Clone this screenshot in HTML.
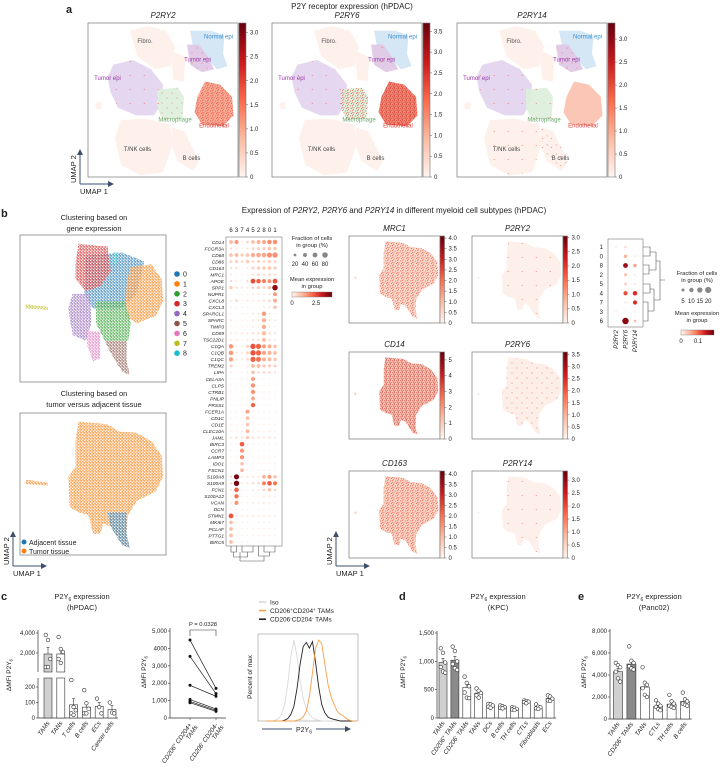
<!DOCTYPE html>
<html><head><meta charset="utf-8">
<style>
html,body{margin:0;padding:0;background:#fff;}
svg{display:block;font-family:"Liberation Sans",sans-serif;}
text{fill:#222;}
</style></head>
<body>
<svg id="fig" width="722" height="775" viewBox="0 0 722 775" xmlns="http://www.w3.org/2000/svg">
<defs>
 <linearGradient id="reds-v" x1="0" y1="1" x2="0" y2="0">
  <stop offset="0" stop-color="#fff5f0"/><stop offset="0.25" stop-color="#fcbba1"/><stop offset="0.5" stop-color="#fb6a4a"/><stop offset="0.75" stop-color="#cb181d"/><stop offset="1" stop-color="#67000d"/>
 </linearGradient>
 <linearGradient id="reds-h" x1="0" y1="0" x2="1" y2="0">
  <stop offset="0" stop-color="#fff5f0"/><stop offset="0.25" stop-color="#fcbba1"/><stop offset="0.5" stop-color="#fb6a4a"/><stop offset="0.75" stop-color="#cb181d"/><stop offset="1" stop-color="#67000d"/>
 </linearGradient>
 <marker id="arr" markerWidth="6" markerHeight="6" refX="5" refY="3" orient="auto"><path d="M0,0 L6,3 L0,6 z" fill="#3d4f6b"/></marker>
</defs>

<text x="66" y="13" font-size="11" font-weight="bold">a</text>
<text x="352" y="9" font-size="8" text-anchor="middle">P2Y receptor expression (hPDAC)</text>

<text x="1" y="217" font-size="11" font-weight="bold">b</text>
<text x="94" y="220" font-size="7.5" text-anchor="middle">Clustering based on</text>
<text x="94" y="231" font-size="7.5" text-anchor="middle">gene expression</text>
<text x="94" y="396" font-size="7.5" text-anchor="middle">Clustering based on</text>
<text x="94" y="407" font-size="7.5" text-anchor="middle">tumor versus adjacent tissue</text>
<text x="394" y="213" font-size="8" text-anchor="middle">Expression of <tspan font-style="italic">P2RY2</tspan>, <tspan font-style="italic">P2RY6</tspan> and <tspan font-style="italic">P2RY14</tspan> in different myeloid cell subtypes (hPDAC)</text>

<text x="1" y="600" font-size="11" font-weight="bold">c</text>
<text x="82" y="599" font-size="7.5" text-anchor="middle">P2Y<tspan font-size="5" dy="2">6</tspan><tspan dy="-2"> expression</tspan></text>
<text x="82" y="610" font-size="7.5" text-anchor="middle">(hPDAC)</text>
<text x="399" y="600" font-size="11" font-weight="bold">d</text>
<text x="498" y="599" font-size="7.5" text-anchor="middle">P2Y<tspan font-size="5" dy="2">6</tspan><tspan dy="-2"> expression</tspan></text>
<text x="498" y="610" font-size="7.5" text-anchor="middle">(KPC)</text>
<text x="578" y="600" font-size="11" font-weight="bold">e</text>
<text x="654" y="599" font-size="7.5" text-anchor="middle">P2Y<tspan font-size="5" dy="2">6</tspan><tspan dy="-2"> expression</tspan></text>
<text x="654" y="610" font-size="7.5" text-anchor="middle">(Panc02)</text>
</svg>

<script>
// ---------------- DATA ----------------
const dpClusters = ["6","3","7","4","5","2","8","0","1"];
const dpGenes = ["CD14","FCGR3A","CD68","CD86","CD163","MRC1","APOE","SPP1","NUPR1","CXCL8","CXCL3","SPARCL1","SPARC","TIMP3","CD59","TSC22D1","C1QA","C1QB","C1QC","TREM2","LIPA","CELA3A","CLPS","CTRB1","PNLIP","PRSS1","FCER1A","CD1C","CD1E","CLEC10A","JAML","BIRC3","CCR7","LAMP3","IDO1","FSCN1","S100A8","S100A9","FCN1","S100A12","VCAN","DCN","STMN1","MKI67","PCLAF","PTTG1","BIRC5"];
const dpFrac = [
[40,45,10,20,35,40,45,55,55],[15,10,5,10,20,25,25,30,30],[40,40,30,40,50,55,60,70,75],[25,30,20,35,20,25,20,30,25],
[15,15,5,10,25,30,30,35,30],[10,5,5,5,15,20,15,20,15],[15,10,5,15,60,55,45,40,60],[30,15,10,10,20,25,20,30,80],
[5,5,5,5,10,10,10,15,40],[10,20,5,10,10,10,15,20,40],[5,5,5,5,5,5,10,10,30],[5,5,5,5,10,10,50,10,5],
[10,5,5,5,10,10,50,10,10],[5,5,5,5,10,5,50,10,5],[10,10,10,10,15,15,50,15,10],[10,10,5,10,15,15,45,15,10],
[55,10,10,25,75,70,45,40,30],[55,10,10,25,75,70,45,40,35],[50,10,10,20,70,65,40,35,30],[25,5,5,10,40,40,30,25,25],
[10,5,5,10,35,20,20,20,15],[5,5,5,5,45,5,5,5,5],[5,5,5,5,50,5,5,5,5],[5,5,5,5,50,5,5,5,5],
[5,5,5,5,40,5,5,5,5],[5,5,5,5,50,5,5,5,5],[5,5,5,40,5,5,5,5,5],[5,5,5,35,5,5,5,5,5],
[5,5,5,30,5,5,5,5,5],[5,5,8,35,8,8,5,8,5],[10,15,15,30,15,15,10,15,10],[5,5,55,8,5,5,5,5,5],
[5,5,45,5,5,5,5,5,5],[5,5,45,5,5,5,5,5,5],[5,5,30,5,5,5,5,5,5],[5,5,35,5,5,5,5,5,5],
[15,70,10,10,10,10,35,40,30],[15,75,10,10,15,15,45,55,45],[10,55,5,5,10,10,20,30,20],[5,50,5,5,5,5,10,10,8],
[8,45,5,5,8,8,10,10,8],[5,5,5,5,5,5,5,5,5],[60,10,10,10,10,10,8,10,8],[35,5,5,5,5,5,5,5,5],
[35,5,5,5,5,5,5,5,5],[35,5,5,5,5,5,5,5,5],[35,5,5,5,5,5,5,5,5]];
const dpExpr = [
[1,1.5,.3,.6,1,1.2,1.3,1.6,1.6],[.5,.4,.2,.4,.6,.7,.8,.9,.9],[.8,1,.7,.8,1.2,1.3,1.3,1.6,1.6],[.5,.6,.4,.7,.5,.6,.5,.6,.5],
[.4,.4,.2,.3,.6,.7,.8,.8,.7],[.3,.2,.2,.2,.4,.5,.4,.5,.4],[.5,.3,.2,.5,2.5,2.2,1.8,1.6,2.4],[.8,.4,.3,.3,.6,.7,.6,.9,3.8],
[.2,.2,.2,.2,.3,.3,.3,.4,1.5],[.3,.5,.2,.3,.3,.3,.4,.5,1.2],[.2,.2,.2,.2,.2,.2,.3,.3,1],[.2,.2,.2,.2,.3,.3,1.5,.3,.2],
[.3,.2,.2,.2,.3,.3,1.2,.3,.3],[.2,.2,.2,.2,.3,.2,1.2,.3,.2],[.3,.3,.3,.3,.4,.4,1,.4,.3],[.3,.3,.2,.3,.4,.4,1,.4,.3],
[1.5,.3,.3,.6,2.4,2.2,1.4,1.2,1],[1.5,.3,.3,.6,2.4,2.2,1.4,1.2,1],[1.4,.3,.3,.5,2.2,2,1.2,1.1,.9],[.6,.2,.2,.3,1,1,.8,.7,.7],
[.3,.2,.2,.3,.9,.5,.5,.5,.4],[.2,.2,.2,.2,1.4,.2,.2,.2,.2],[.2,.2,.2,.2,1.6,.2,.2,.2,.2],[.2,.2,.2,.2,1.6,.2,.2,.2,.2],
[.2,.2,.2,.2,1.3,.2,.2,.2,.2],[.2,.2,.2,.2,2.2,.2,.2,.2,.2],[.2,.2,.2,1.4,.2,.2,.2,.2,.2],[.2,.2,.2,1,.2,.2,.2,.2,.2],
[.2,.2,.2,.9,.2,.2,.2,.2,.2],[.2,.2,.3,1.1,.3,.3,.2,.3,.2],[.3,.4,.4,.8,.4,.4,.3,.4,.3],[.2,.2,2.3,.3,.2,.2,.2,.2,.2],
[.2,.2,1.6,.2,.2,.2,.2,.2,.2],[.2,.2,1.6,.2,.2,.2,.2,.2,.2],[.2,.2,1,.2,.2,.2,.2,.2,.2],[.2,.2,1.1,.2,.2,.2,.2,.2,.2],
[.5,4,.3,.3,.3,.3,1.2,1.5,1],[.5,4,.3,.3,.5,.5,1.8,2.3,2],[.3,2.2,.2,.2,.3,.3,.6,.9,.6],[.2,2,.2,.2,.2,.2,.3,.3,.3],
[.3,1.6,.2,.2,.3,.3,.3,.3,.3],[.2,.2,.2,.2,.2,.2,.2,.2,.2],[2.4,.3,.3,.3,.3,.3,.3,.3,.3],[1,.2,.2,.2,.2,.2,.2,.2,.2],
[1,.2,.2,.2,.2,.2,.2,.2,.2],[1,.2,.2,.2,.2,.2,.2,.2,.2],[1,.2,.2,.2,.2,.2,.2,.2,.2]];

const pRows = ["1","0","8","2","5","4","7","3","6"];
const pGenes = ["P2RY2","P2RY6","P2RY14"];
const pFrac = [[2,3,1],[1,6,2],[1,12,6],[1,5,2],[1,4,2],[1,9,11],[1,2,9],[2,1,1],[1,22,4]];
const pExpr = [[.01,.03,0],[0,.06,.02],[0,.19,.07],[0,.05,.01],[0,.04,.02],[0,.13,.15],[0,.02,.15],[.01,.01,.01],[0,.2,.05]];

const cCats = ["TAMs","TANs","T cells","B cells","ECs","Cancer cells"];
const cMeans = [1900,1900,85,70,75,55];
const cErr = [650,500,40,30,25,25];
const cPoints = [[3800,3300,1400,600,600],[3600,2400,2100,1400,1000],[245,70,50,30,20],[180,95,60,30,30],[125,70,30],[100,35,30]];
const cUpperTicks = [2000,4000];
const cLowerTicks = [0,100,200];

const pairLeft = [4480,3540,1880,1060,950,880];
const pairRight = [1700,1400,1250,520,450,380];
const pairTicks = [0,1000,2000,3000,4000,5000];
const pairTickLabels = ["0","1,000","2,000","3,000","4000","5,000"];

const histIso = [0,0,0,1,3,8,20,45,80,100,80,50,28,15,8,4,2,1,0,0,0,0,0,0,0,0,0,0,0,0];
const histNeg = [0,0,0,0,0,0,1,3,8,18,40,70,92,97,90,98,72,42,20,10,5,3,2,1,0,0,0,0,0,0];
const histPos = [0,0,0,0,0,0,0,0,0,0,1,2,5,12,30,60,90,100,95,70,45,30,20,12,8,6,3,1,0,0];

const dCats = ["TAMs","CD206+ TAMs","CD206- TAMs","TANs","DCs","B cells","TH cells","CTLs","Fibroblasts","ECs"];
const dMeans = [980,1020,540,440,220,200,165,290,190,345];
const dPoints = [[1230,1150,980,900,820,800],[1260,1180,1000,950,880,850],[730,620,560,450,360,350],[520,480,440,400,360],[250,240,220,200,180],[220,210,190,180,170],[190,180,160,150,140],[310,300,290,280,260],[240,200,190,170,160],[400,380,340,310,300]];
const dTicks = [0,500,1000,1500];
const dTickLabels = ["0","500","1,000","1,500"];

const eCats = ["TAMs","CD206+ TAMs","TANs","CTLs","TH cells","B cells"];
const eMeans = [4300,5000,2900,1150,1350,1600];
const ePoints = [[5100,4900,4700,4300,3700,3400],[6600,5300,5100,4800,4600,4500],[4700,3300,3100,2800,2200,2000],[1700,1400,1200,1100,900,800],[2200,1600,1400,1200,1100,1000],[2400,1800,1600,1400,1300,1200]];
const eTicks = [0,2000,4000,6000,8000];
const eTickLabels = ["0","2,000","4,000","6,000","8,000"];

// ---------------- HELPERS ----------------
const NS="http://www.w3.org/2000/svg";
const svg=document.getElementById('fig');
const defs=svg.querySelector('defs');
function el(tag,a,p){const e=document.createElementNS(NS,tag);for(const k in a)e.setAttribute(k,a[k]);(p||svg).appendChild(e);return e;}
function tx(x,y,s,size,p,extra){const t=el('text',Object.assign({x:x,y:y,'font-size':size},extra||{}),p);t.textContent=s;return t;}
const stops=[[255,245,240],[252,187,161],[251,106,74],[203,24,29],[103,0,13]];
function reds(t){t=Math.max(0,Math.min(1,t));const f=t*4,i=Math.min(3,Math.floor(f)),r=f-i;const a=stops[i],b=stops[i+1];
 return 'rgb('+a.map((v,k)=>Math.round(v+(b[k]-v)*r)).join(',')+')';}
function poly(pts,x0,y0,w,h){return pts.map((p,i)=>(i?'L':'M')+(x0+p[0]*w).toFixed(1)+','+(y0+p[1]*h).toFixed(1)).join(' ')+'Z';}
function pattern(id,color,tile,pts){const p=el('pattern',{id:id,width:tile,height:tile,patternUnits:'userSpaceOnUse'},defs);
 pts.forEach(q=>el('circle',{cx:q[0]*tile,cy:q[1]*tile,r:q[2]||0.45,fill:color},p));}
const spk=[[.1,.2],[.55,.1],[.8,.55],[.3,.7],[.65,.85],[.45,.45]];
pattern('spk-red','#e8412c',5,spk);
pattern('spk-dark','#c81d1d',4,spk);
pattern('spk-light','#ee5a40',10,[[.2,.3],[.7,.8]]);
pattern('spk-sparse','#e55a45',14,[[.3,.4]]);
pattern('spk-vsparse','#e55a45',9,[[.3,.4],[.8,.1]]);
const clusterColors=['#1f77b4','#ff7f0e','#2ca02c','#d62728','#9467bd','#8c564b','#e377c2','#bcbd22','#17becf'];
clusterColors.forEach((c,i)=>pattern('cl'+i,c,3,[[.2,.3,.7],[.7,.75,.7],[.75,.2,.5]]));

function colorbar(x,y,w,h,max,ticks,labels,p){
 const g=el('g',{},p);
 
 
 el('rect',{x:x,y:y,width:w,height:h,fill:'url(#reds-v)',stroke:'#777','stroke-width':0.6},g);
 ticks.forEach((t,i)=>{const yy=y+h-t/max*h;el('line',{x1:x+w,x2:x+w+2,y1:yy,y2:yy,stroke:'#555','stroke-width':0.5},g);
  tx(x+w+4,yy+2,labels[i],6,g);});
}
function umapArrows(x,y,p){
 const g=el('g',{},p);
 
 
 el('line',{x1:x,y1:y,x2:x,y2:y-34,stroke:'#3d4f6b','stroke-width':1,'marker-end':'url(#arr)'},g);
 el('line',{x1:x,y1:y,x2:x+33,y2:y,stroke:'#3d4f6b','stroke-width':1,'marker-end':'url(#arr)'},g);
 tx(x,y+10,'UMAP 1',7.5,g);
 tx(x-4,y-1,'UMAP 2',7.5,g,{transform:'rotate(-90 '+(x-4)+' '+(y-1)+')'});
}

// ---------------- PANEL A ----------------
const blobs={
 bigTumor:[[.17,.27],[.30,.24],[.42,.30],[.50,.40],[.49,.52],[.44,.60],[.32,.60],[.20,.55],[.15,.45],[.13,.35]],
 fibro:[[.28,.05],[.40,.02],[.52,.05],[.58,.15],[.55,.28],[.45,.30],[.33,.22]],
 fibro2:[[.55,.18],[.65,.22],[.64,.38],[.57,.37]],
 normal:[[.68,.05],[.82,.05],[.91,.08],[.90,.20],[.93,.28],[.86,.30],[.78,.22],[.70,.15]],
 smallTumor:[[.66,.14],[.74,.14],[.80,.22],[.84,.30],[.76,.32],[.68,.27]],
 macro:[[.46,.43],[.60,.42],[.64,.48],[.63,.62],[.50,.63],[.46,.55]],
 endo:[[.78,.38],[.88,.40],[.96,.48],[.97,.60],[.90,.67],[.76,.66],[.71,.58],[.73,.48]],
 tnk:[[.22,.63],[.38,.62],[.55,.66],[.56,.80],[.50,.97],[.35,.99],[.22,.92],[.18,.75]],
 bcell:[[.56,.68],[.64,.70],[.74,.90],[.70,.96],[.60,.90],[.55,.78]],
 bit:[[.05,.52],[.09,.51],[.09,.56],[.05,.56]]
};
const aPanels=[
 {gene:'P2RY2',x:88,max:3.2,ticks:[0,.5,1,1.5,2,2.5,3],endo:'#f7a58f',endoS:'url(#spk-red)',macS:'url(#spk-light)',tumS:'url(#spk-light)',tnkS:null},
 {gene:'P2RY6',x:272,max:3.7,ticks:[0,.5,1,1.5,2,2.5,3,3.5],endo:'#f4866f',endoS:'url(#spk-dark)',macS:'url(#spk-red)',tumS:'url(#spk-sparse)',tnkS:null},
 {gene:'P2RY14',x:457,max:3.35,ticks:[0,.5,1,1.5,2,2.5,3],endo:'#fcc3b2',endoS:null,macS:'url(#spk-sparse)',tumS:'url(#spk-light)',tnkS:'url(#spk-sparse)'}
];
aPanels.forEach((P,pi)=>{
 const g=el('g',{});
 
 
 const x0=P.x,y0=23,w=150,h=154;
 tx(x0+w/2,y0-5,P.gene,8,g,{'text-anchor':'middle','font-style':'italic'});
 el('rect',{x:x0,y:y0,width:w,height:h,fill:'#fff',stroke:'#777','stroke-width':0.7},g);
 const faint='#fef0ea';
 [['fibro',faint],['fibro2',faint],['tnk',faint],['bcell',faint],['bit',faint],
  ['bigTumor','#e4d5ee'],['normal','#d3e5f3'],['smallTumor','#dfc8e6'],['macro','#ddefdc'],['endo',P.endo]].forEach(b=>{
   el('path',{d:poly(blobs[b[0]],x0,y0,w,h),fill:b[1],opacity:0.95},g);
 });
 if(P.endoS) el('path',{d:poly(blobs.endo,x0,y0,w,h),fill:P.endoS},g);
 el('path',{d:poly(blobs.macro,x0,y0,w,h),fill:P.macS},g);
 el('path',{d:poly(blobs.bigTumor,x0,y0,w,h),fill:'url(#spk-sparse)'},g);
 el('path',{d:poly(blobs.smallTumor,x0,y0,w,h),fill:P.tumS},g);
 if(P.tnkS){el('path',{d:poly(blobs.tnk,x0,y0,w,h),fill:P.tnkS},g);el('path',{d:poly(blobs.bcell,x0,y0,w,h),fill:'url(#spk-vsparse)'},g);}
 const labs=[['Fibro.',.38,.13,'#555'],['Normal epi',.87,.10,'#3a8fd0'],['Tumor epi',.73,.25,'#9b3aa8'],['Tumor epi',.13,.37,'#9b3aa8'],
  ['Macrophage',.58,.64,'#6aa86a'],['Endothelial',.84,.68,'#e0403a'],['T/NK cells',.33,.83,'#444'],['B cells',.69,.89,'#444']];
 labs.forEach(l=>{const t=tx(x0+l[1]*w,y0+l[2]*h,l[0],6,g,{'text-anchor':'middle'});t.style.fill=l[3];});
 colorbar(x0+w+1,y0,7,h,P.max,P.ticks,P.ticks.map(v=>v===0?'0':v.toFixed(1)),g);
});
umapArrows(80,184);

// ---------------- PANEL B: cluster UMAPs ----------------
const shape=[[.40,.06],[.60,.08],[.68,.13],[.80,.14],[.90,.20],[.97,.30],[.98,.45],[.93,.55],[.80,.62],[.74,.72],[.73,.85],[.75,.95],[.70,.93],[.62,.80],[.57,.78],[.55,.85],[.50,.85],[.47,.72],[.40,.70],[.34,.66],[.33,.45],[.38,.38],[.38,.20]];
const clusterShapes=[
 [[.45,.14],[.70,.12],[.85,.18],[.80,.40],[.70,.50],[.50,.50],[.44,.40]],
 [[.75,.22],[.90,.20],[.97,.30],[.98,.45],[.93,.55],[.80,.60],[.72,.55],[.73,.35]],
 [[.52,.45],[.72,.45],[.76,.60],[.74,.72],[.58,.72],[.52,.60]],
 [[.40,.06],[.60,.08],[.62,.25],[.55,.35],[.45,.38],[.38,.30],[.38,.20]],
 [[.36,.40],[.48,.40],[.49,.60],[.45,.72],[.36,.68],[.33,.50]],
 [[.58,.72],[.73,.72],[.73,.85],[.75,.95],[.70,.93],[.62,.80]],
 [[.45,.65],[.55,.66],[.55,.84],[.50,.86],[.46,.75]],
 [[.04,.47],[.19,.49],[.19,.51],[.04,.50]],
 [[.64,.12],[.67,.12],[.66,.20],[.63,.20]]
];
(function(){
 const g=el('g',{});
 
 
 const x0=20,y0=235,w=146,h=147;
 el('rect',{x:x0,y:y0,width:w,height:h,fill:'#fff',stroke:'#777','stroke-width':0.7},g);
 clusterShapes.forEach((s,i)=>{const p=el('path',{d:poly(s,x0,y0,w,h),fill:'url(#cl'+i+')'},g);
  });
 clusterColors.forEach((c,i)=>{const yy=274+i*9.9;
  const lg=el('g',{},svg);
  
  
  el('circle',{cx:177,cy:yy,r:2.8,fill:c},lg);tx(183,yy+2.5,String(i),7,lg);});
 const g2=el('g',{});
 
 
 const y1=413,h1=142;
 el('rect',{x:x0,y:y1,width:w,height:h1,fill:'#fff',stroke:'#777','stroke-width':0.7},g2);
 el('path',{d:poly(shape,x0,y1,w,h1),fill:'url(#cl1)'},g2);
 el('path',{d:poly(clusterShapes[7],x0,y1,w,h1),fill:'url(#cl1)'},g2);
 el('path',{d:poly([[.60,.70],[.73,.70],[.73,.85],[.75,.95],[.70,.93],[.62,.80]],x0,y1,w,h1),fill:'url(#cl0)'},g2);
 el('circle',{cx:24,cy:542,r:2.5,fill:'#1f77b4'},g2);tx(29,545,'Adjacent tissue',7,g2);
 el('circle',{cx:24,cy:551,r:2.5,fill:'#ff7f0e'},g2);tx(29,554,'Tumor tissue',7,g2);
 umapArrows(13,566);
})();

// ---------------- PANEL B: dot plot ----------------
(function(){
 const g=el('g',{});
 
 
 const bx=226,by=237,bw=56,bh=309;
 const colX=i=>231+i*5.5, rowY=j=>242+j*(300/(dpGenes.length-1));
 const rScale=f=>3.1*Math.sqrt(f/100), cScale=v=>reds(v/4.2);
 el('rect',{x:bx,y:by,width:bw,height:bh,fill:'#fff',stroke:'#777','stroke-width':0.6},g);
 dpClusters.forEach((c,i)=>tx(colX(i),232,c,6,g,{'text-anchor':'middle'}));
 dpGenes.forEach((gn,j)=>{
  tx(224,rowY(j)+1.8,gn,4.8,g,{'text-anchor':'end','font-style':'italic'});
  dpFrac[j].forEach((f,i)=>{const c=el('circle',{cx:colX(i),cy:rowY(j),r:rScale(f),fill:cScale(dpExpr[j][i])},g);
   });
 });
 const d=el('path',{d:'M231,546V552H236.5V546 M233.7,552V557H240V552 M242,546V552H253V546 M247.5,552V557H240 M240,557V561 M258.5,546V552 M264,546V552H275V546 M269.5,552V556 M258.5,552V556H269.5 M264,556V561H240',fill:'none',stroke:'#555','stroke-width':0.6},g);
 
 tx(312,240,'Fraction of cells',5.8,g,{'text-anchor':'middle'});
 tx(312,247,'in group (%)',5.8,g,{'text-anchor':'middle'});
 [20,40,60,80].forEach((f,i)=>{const x=295+i*10;el('circle',{cx:x,cy:255,r:rScale(f),fill:'#888'},g);tx(x,266,String(f),6,g,{'text-anchor':'middle'});});
 tx(312,281,'Mean expression',5.8,g,{'text-anchor':'middle'});
 tx(312,288,'in group',5.8,g,{'text-anchor':'middle'});
 el('rect',{x:292,y:292,width:40,height:5,fill:'url(#reds-h)',stroke:'#777','stroke-width':0.4},g);
 tx(292,305,'0',6,g,{'text-anchor':'middle'});tx(316,305,'2.5',6,g,{'text-anchor':'middle'});
})();

// ---------------- PANEL B: gene UMAPs ----------------
const gU=[
 {gene:'MRC1',x:349,y:236,max:4.1,ticks:[0,.5,1,1.5,2,2.5,3,3.5,4],dec:1,fill:'#fcd9cc',sp:'url(#spk-red)'},
 {gene:'P2RY2',x:472,y:236,max:3.05,ticks:[0,.5,1,1.5,2,2.5,3],dec:1,fill:'#fdf0ea',sp:'url(#spk-sparse)'},
 {gene:'CD14',x:349,y:352,max:5.5,ticks:[0,1,2,3,4,5],dec:0,fill:'#fbcbb9',sp:'url(#spk-dark)'},
 {gene:'P2RY6',x:472,y:352,max:3.6,ticks:[0,.5,1,1.5,2,2.5,3,3.5],dec:1,fill:'#fdeee8',sp:'url(#spk-light)'},
 {gene:'CD163',x:349,y:471,max:4.15,ticks:[0,.5,1,1.5,2,2.5,3,3.5,4],dec:1,fill:'#fcd3c4',sp:'url(#spk-red)'},
 {gene:'P2RY14',x:472,y:471,max:3.35,ticks:[0,.5,1,1.5,2,2.5,3],dec:1,fill:'#fdf0ea',sp:'url(#spk-sparse)'}
];
gU.forEach(U=>{
 const g=el('g',{});
 
 
 const w=91,h=87;
 tx(U.x+w/2,U.y-5,U.gene,8,g,{'text-anchor':'middle','font-style':'italic'});
 el('rect',{x:U.x,y:U.y,width:w,height:h,fill:'#fff',stroke:'#777','stroke-width':0.7},g);
 el('path',{d:poly(shape,U.x,U.y,w,h),fill:U.fill},g);
 el('path',{d:poly(shape,U.x,U.y,w,h),fill:U.sp},g);
 el('circle',{cx:U.x+0.07*w,cy:U.y+0.48*h,r:1.2,fill:U.fill},g);
 colorbar(U.x+w,U.y,4.5,h,U.max,U.ticks,U.ticks.map(v=>v===0?'0':v.toFixed(U.dec)),g);
});
umapArrows(336,566);

// ---------------- PANEL B: P2RY dot plot ----------------
(function(){
 const g=el('g',{});
 
 
 const colX=i=>616+i*9.5, rowY=j=>247+j*9.25;
 const rScale=f=>3.1*Math.sqrt(f/20), cScale=v=>reds(v/0.22);
 el('rect',{x:608,y:239,width:35,height:88,fill:'#fff',stroke:'#777','stroke-width':0.6},g);
 pRows.forEach((r,j)=>{tx(603,rowY(j)+2,r,6,g,{'text-anchor':'end'});
  pFrac[j].forEach((f,i)=>{const c=el('circle',{cx:colX(i),cy:rowY(j),r:Math.max(0.5,rScale(f)),fill:cScale(pExpr[j][i])},g);
   });});
 pGenes.forEach((gn,i)=>tx(colX(i)+2,330,gn,6,g,{'text-anchor':'end','font-style':'italic',transform:'rotate(-90 '+(colX(i)+2)+' 330)'}));
 const d=el('path',{d:'M643,247H650V256H643 M650,252H656 M643,265H649V274H643 M649,270H656 M656,252V270 M656,261H660 M643,284H650V293H643 M650,289H654 M643,302H648V321H643 M648,311H654 M654,289V311 M654,300H660 M660,261V300 M660,280H665',fill:'none',stroke:'#555','stroke-width':0.6},g);
 
 tx(697,275,'Fraction of cells',5.8,g,{'text-anchor':'middle'});
 tx(697,282,'in group (%)',5.8,g,{'text-anchor':'middle'});
 [5,10,15,20].forEach((f,i)=>{const x=683+i*8.4;el('circle',{cx:x,cy:290,r:rScale(f),fill:'#888'},g);tx(x,303,String(f),6,g,{'text-anchor':'middle'});});
 tx(697,315,'Mean expression',5.8,g,{'text-anchor':'middle'});
 tx(697,322,'in group',5.8,g,{'text-anchor':'middle'});
 el('rect',{x:681,y:330,width:33,height:5,fill:'url(#reds-h)',stroke:'#777','stroke-width':0.4},g);
 tx(681,343,'0',6,g,{'text-anchor':'middle'});tx(698,343,'0.1',6,g,{'text-anchor':'middle'});
})();

// ---------------- BAR CHART HELPER ----------------
function xLabel(g,x,y,s){
 const parts=s.match(/^(.*?)([+-])( .*)?$/);
 const t=el('text',{x:x,y:y,'font-size':6.3,'text-anchor':'end','font-style':'italic',transform:'rotate(-55 '+x+' '+y+')'},g);
 if(parts){t.appendChild(document.createTextNode(parts[1]));const sp=el('tspan',{dy:-2,'font-size':4.5},t);sp.textContent=parts[2];
  const r=el('tspan',{dy:2},t);r.textContent=parts[3]||'';}
 else t.textContent=s;
}
function yTitle(g,x,y){
 const t=el('text',{x:x,y:y,'font-size':6.5,'text-anchor':'middle',transform:'rotate(-90 '+x+' '+y+')'},g);
 t.appendChild(document.createTextNode('\u0394MFI P2Y'));const s=el('tspan',{dy:1.5,'font-size':4.5},t);s.textContent='6';
}
function barChart(name,cats,means,pts,ticks,tickLabels,ax,y0,ymax,pxTop,x0,dx,bw,fills){
 const g=el('g',{});
 
 
 const Y=v=>y0-(v/ymax)*(y0-pxTop), X=i=>x0+i*dx;
 el('line',{x1:ax,x2:ax,y1:pxTop-2,y2:y0,stroke:'#333','stroke-width':0.7},g);
 el('line',{x1:ax,x2:X(cats.length-1)+dx/2,y1:y0,y2:y0,stroke:'#333','stroke-width':0.7},g);
 ticks.forEach((t,i)=>{el('line',{x1:ax-2,x2:ax,y1:Y(t),y2:Y(t),stroke:'#333','stroke-width':0.6},g);tx(ax-3,Y(t)+2,tickLabels[i],6,g,{'text-anchor':'end'});});
 cats.forEach((c,i)=>{
  const b=el('rect',{x:X(i)-bw/2,y:Y(means[i]),width:bw,height:y0-Y(means[i]),fill:fills[i]||'#fff',stroke:'#333','stroke-width':0.6},g);
  
  const p=pts[i],m=p.reduce((a,b)=>a+b,0)/p.length,sd=Math.sqrt(p.reduce((a,b)=>a+(b-m)*(b-m),0)/(p.length-1)),se=sd/Math.sqrt(p.length);
  el('line',{x1:X(i),x2:X(i),y1:Y(means[i]+se),y2:Y(means[i]),stroke:'#333','stroke-width':0.6},g);
  el('line',{x1:X(i)-1.5,x2:X(i)+1.5,y1:Y(means[i]+se),y2:Y(means[i]+se),stroke:'#333','stroke-width':0.6},g);
  p.forEach((v,k)=>el('circle',{cx:X(i)+((k%3)-1)*2.2,cy:Y(v),r:1.8,fill:'#fff',stroke:'#333','stroke-width':0.6},g));
  xLabel(g,X(i)+2,y0+5,c);
 });
 return g;
}

// ---------------- PANEL C1 (broken axis) ----------------
(function(){
 const g=el('g',{});
 
 
 const ax=38, X=i=>48+i*12.8, bw=8;
 const YU=v=>673-v*0.01, YL=v=>718-v*0.155;
 const upTop=630, upBot=672, loTop=678;
 el('line',{x1:ax,x2:ax,y1:upTop,y2:upBot,stroke:'#333','stroke-width':0.7},g);
 el('line',{x1:ax,x2:ax,y1:loTop,y2:718,stroke:'#333','stroke-width':0.7},g);
 el('line',{x1:ax,x2:118,y1:718,y2:718,stroke:'#333','stroke-width':0.7},g);
 cUpperTicks.forEach(t=>{el('line',{x1:ax-2,x2:ax,y1:YU(t),y2:YU(t),stroke:'#333','stroke-width':0.6},g);tx(ax-3,YU(t)+2,t.toLocaleString('en-US'),6,g,{'text-anchor':'end'});});
 cLowerTicks.forEach(t=>{el('line',{x1:ax-2,x2:ax,y1:YL(t),y2:YL(t),stroke:'#333','stroke-width':0.6},g);tx(ax-3,YL(t)+2,String(t),6,g,{'text-anchor':'end'});});
 yTitle(g,11,675);
 const fills=['#d0d0d0','#fff','#fff','#fff','#fff','#fff'];
 cCats.forEach((c,i)=>{
  const m=cMeans[i],x=X(i);
  if(m>260){
   const b1=el('rect',{x:x-bw/2,y:YU(m),width:bw,height:upBot-YU(m),fill:fills[i],stroke:'#333','stroke-width':0.6},g);
   
   const b2=el('rect',{x:x-bw/2,y:loTop,width:bw,height:718-loTop,fill:fills[i],stroke:'#333','stroke-width':0.6},g);
   
   el('line',{x1:x,x2:x,y1:YU(m+cErr[i]),y2:YU(m),stroke:'#333','stroke-width':0.6},g);
   el('line',{x1:x-1.5,x2:x+1.5,y1:YU(m+cErr[i]),y2:YU(m+cErr[i]),stroke:'#333','stroke-width':0.6},g);
  } else {
   const b=el('rect',{x:x-bw/2,y:YL(m),width:bw,height:718-YL(m),fill:fills[i],stroke:'#333','stroke-width':0.6},g);
   
   el('line',{x1:x,x2:x,y1:YL(m+cErr[i]),y2:YL(m),stroke:'#333','stroke-width':0.6},g);
   el('line',{x1:x-1.5,x2:x+1.5,y1:YL(m+cErr[i]),y2:YL(m+cErr[i]),stroke:'#333','stroke-width':0.6},g);
  }
  cPoints[i].forEach((v,k)=>{const y=v>260?YU(v):YL(v);el('circle',{cx:x+((k%3)-1)*2.2,cy:y,r:1.8,fill:'#fff',stroke:'#333','stroke-width':0.6},g);});
  xLabel(g,x+2,723,c);
 });
})();

// ---------------- PANEL C2 paired ----------------
(function(){
 const g=el('g',{});
 
 
 const ax=170,Y=v=>718-v*0.0174,XL=190,XR=216;
 el('line',{x1:ax,x2:ax,y1:628,y2:718,stroke:'#333','stroke-width':0.7},g);
 el('line',{x1:ax,x2:226,y1:718,y2:718,stroke:'#333','stroke-width':0.7},g);
 pairTicks.forEach((t,i)=>{el('line',{x1:ax-2,x2:ax,y1:Y(t),y2:Y(t),stroke:'#333','stroke-width':0.6},g);tx(ax-3,Y(t)+2,pairTickLabels[i],6,g,{'text-anchor':'end'});});
 [XL,XR].forEach(x=>el('line',{x1:x,x2:x,y1:718,y2:720,stroke:'#333','stroke-width':0.6},g));
 yTitle(g,146,672);
 pairLeft.forEach((v,i)=>{
  const l=el('line',{x1:XL,y1:Y(v),x2:XR,y2:Y(pairRight[i]),stroke:'#222','stroke-width':0.7},g);
  
  el('circle',{cx:XL,cy:Y(v),r:1.5,fill:'#111'},g);el('circle',{cx:XR,cy:Y(pairRight[i]),r:1.5,fill:'#111'},g);
 });
 el('path',{d:'M'+XL+',636V630H'+XR+'V636',fill:'none',stroke:'#333','stroke-width':0.6},g);
 tx(203,626,'P = 0.0328',5.8,g,{'text-anchor':'middle'});
 xLabel(g,XL+2,725,'CD206+ CD204+');
 xLabel(g,XL+8,727,'TAMs');
 xLabel(g,XR+2,725,'CD206- CD204-');
 xLabel(g,XR+8,727,'TAMs');
})();

// ---------------- PANEL C3 histogram ----------------
(function(){
 const g=el('g',{});
 
 
 const bx=258,by=634,bw=100,bh=87;
 el('rect',{x:bx,y:by,width:bw,height:bh,fill:'#fff',stroke:'#999','stroke-width':0.6},g);
 const X=i=>bx+8+i*3.1, Y=v=>by+bh-v/100*(bh-6);
 function curve(arr,col,nm){const p=el('path',{d:arr.map((v,i)=>(i?'L':'M')+X(i).toFixed(1)+','+Y(v).toFixed(1)).join(' '),fill:'none',stroke:col,'stroke-width':0.9},g);
  }
 curve(histIso,'#d9d9d9','hist-iso');curve(histNeg,'#222','hist-cd206-neg');curve(histPos,'#f7a04a','hist-cd206-pos');
 tx(252,677,'Percent of max',6.5,g,{'text-anchor':'middle',transform:'rotate(-90 252 677)'});
 el('line',{x1:262,x2:292,y1:729,y2:729,stroke:'#3d4f6b','stroke-width':1},g);
 el('line',{x1:316,x2:350,y1:729,y2:729,stroke:'#3d4f6b','stroke-width':1,'marker-end':'url(#arr)'},g);
 const t=tx(296,732,'P2Y',7,g);const s=el('tspan',{dy:1.5,'font-size':5},t);s.textContent='6';
 const leg=[['Iso','#d9d9d9',''],['CD206','#f7a04a','+'],['CD206','#222','-']];
 leg.forEach((L,i)=>{const y=602+i*8.6;
  const lg=el('g',{},g);
  
  
  el('line',{x1:259,x2:266,y1:y,y2:y,stroke:L[1],'stroke-width':1.6},lg);
  const t=tx(270,y+2.3,L[0],6.5,lg);
  if(L[2]){const a=el('tspan',{dy:-2,'font-size':4.5},t);a.textContent=L[2];const b=el('tspan',{dy:2},t);b.textContent='CD204';
   const c2=el('tspan',{dy:-2,'font-size':4.5},t);c2.textContent=L[2];const d=el('tspan',{dy:2},t);d.textContent=' TAMs';}
 });
})();

// ---------------- PANEL D / E ----------------
const dg=barChart('d-bar-chart-kpc',dCats,dMeans,dPoints,dTicks,dTickLabels,437,718,1500,633,443,11.9,8,['#d0d0d0','#8a8a8a']);
yTitle(dg,405,672);
const eg=barChart('e-bar-chart-panc02',eCats,eMeans,ePoints,eTicks,eTickLabels,610,719,8000,631,618,13.4,9,['#d0d0d0','#8a8a8a']);
yTitle(eg,586,672);
</script>
</body></html>
